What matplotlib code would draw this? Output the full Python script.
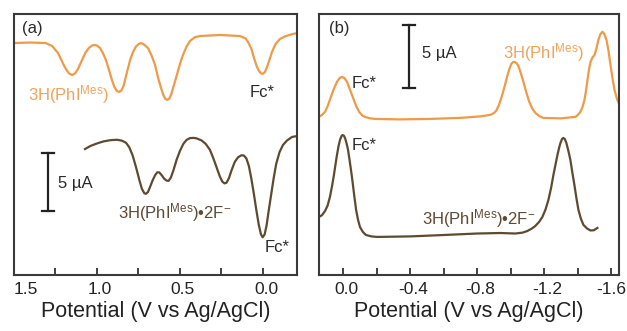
import matplotlib.pyplot as plt
from matplotlib.ticker import FixedLocator
from matplotlib.transforms import ScaledTranslation

# 폰트 설정
plt.rcParams['font.family'] = ['Liberation Sans', 'DejaVu Sans']
plt.rcParams['mathtext.fontset'] = 'custom'
plt.rcParams['mathtext.rm'] = 'Liberation Sans'
plt.rcParams['mathtext.it'] = 'Liberation Sans:italic'

# (a) 3H(PhI^Mes)
a_top_v = [1.50, 1.40, 1.31, 1.27, 1.235, 1.20, 1.185, 1.168, 1.15, 1.132, 1.115, 1.09,
           1.07, 1.05, 1.03, 1.015, 1.0, 0.982, 0.965, 0.946, 0.928, 0.91, 0.895, 0.88,
           0.867, 0.854, 0.84, 0.819, 0.80, 0.783, 0.765, 0.75, 0.735, 0.718, 0.693,
           0.672, 0.65, 0.63, 0.614, 0.60, 0.588, 0.577, 0.565, 0.552, 0.54, 0.524,
           0.50, 0.482, 0.46, 0.44, 0.41, 0.38, 0.259, 0.139, 0.105, 0.09, 0.07, 0.054,
           0.038, 0.024, 0.012, 0.0, -0.012, -0.025, -0.04, -0.054, -0.075, -0.102,
           -0.13, -0.157, -0.205]
a_top_i = [20.0, 20.04, 20.0, 19.74, 19.14, 18.1, 17.7, 17.38, 17.24, 17.38, 17.75, 18.53,
           19.15, 19.55, 19.78, 19.83, 19.78, 19.57, 19.15, 18.53, 17.7, 16.81, 16.2, 15.87,
           15.78, 15.88, 16.3, 17.5, 18.55, 19.22, 19.7, 19.9, 20.0, 19.88, 19.57,
           18.95, 18.1, 16.9, 16.12, 15.5, 15.18, 15.09, 15.2, 15.6, 16.2, 16.98,
           18.2, 18.97, 19.7, 20.17, 20.5, 20.6, 20.69, 20.6, 20.4, 20.09, 19.5, 18.7,
           18.0, 17.59, 17.38, 17.35, 17.5, 17.95, 18.6, 19.22, 19.9, 20.34,
           20.55, 20.69, 20.86]

# (a) 3H(PhI^Mes)·2F-
a_bot_v = [1.072, 1.04, 1.0, 0.96, 0.92, 0.88, 0.85, 0.825, 0.805, 0.785, 0.765, 0.745,
           0.73, 0.715, 0.705, 0.693, 0.68, 0.665, 0.65, 0.637, 0.625, 0.61, 0.595, 0.58,
           0.568, 0.555, 0.54, 0.52, 0.50, 0.48, 0.46, 0.44, 0.42, 0.40, 0.37, 0.345,
           0.32, 0.30, 0.28, 0.26, 0.245, 0.232, 0.22, 0.205, 0.19, 0.17, 0.15, 0.13,
           0.115, 0.10, 0.085, 0.07, 0.055, 0.04, 0.025, 0.012, 0.002, -0.01, -0.022,
           -0.035, -0.05, -0.065, -0.08, -0.10, -0.12, -0.145, -0.175, -0.205]
a_bot_i = [10.86, 11.12, 11.34, 11.52, 11.62, 11.66, 11.58, 11.4, 11.0, 10.3, 9.3, 8.2,
           7.45, 7.05, 7.0, 7.15, 7.6, 8.15, 8.6, 8.85, 8.85, 8.6, 8.3, 8.13,
           8.12, 8.4, 9.0, 9.95, 10.7, 11.3, 11.65, 11.8, 11.82, 11.78, 11.6, 11.3,
           10.8, 10.1, 9.3, 8.5, 8.05, 7.9, 7.95, 8.35, 9.0, 9.75, 10.15, 10.32,
           10.3, 10.05, 9.4, 8.3, 7.0, 5.6, 4.3, 3.5, 3.25, 3.5, 4.3,
           5.6, 7.0, 8.4, 9.6, 10.6, 11.2, 11.6, 11.9, 11.98]

# (b) 3H(PhI^Mes)
b_top_v = [0.143, 0.125, 0.107, 0.09, 0.072, 0.055, 0.036, 0.02, 0.006, -0.008, -0.024,
           -0.04, -0.06, -0.078, -0.096, -0.115, -0.131, -0.16, -0.191, -0.34, -0.519,
           -0.699, -0.818, -0.878, -0.90, -0.913, -0.93, -0.949, -0.965, -0.979, -0.992,
           -1.003, -1.013, -1.022, -1.033, -1.045, -1.06, -1.075, -1.092, -1.11, -1.128,
           -1.146, -1.17, -1.194, -1.296, -1.385, -1.40, -1.415, -1.428, -1.439, -1.448,
           -1.457, -1.466, -1.475, -1.487, -1.499, -1.51, -1.522, -1.534, -1.546, -1.558,
           -1.57, -1.582, -1.594, -1.606, -1.618, -1.633, -1.648]
b_top_i = [12.54, 12.7, 12.94, 13.45, 14.13, 14.75, 15.32, 15.62, 15.71, 15.62, 15.32,
           14.75, 14.05, 13.4, 12.94, 12.65, 12.54, 12.43, 12.38, 12.34, 12.38,
           12.46, 12.58, 12.7, 12.85, 13.02, 13.5, 14.29, 15.05, 15.79, 16.35,
           16.75, 16.88, 16.9, 16.82, 16.59, 16.0, 15.32, 14.5, 13.73, 13.2,
           12.86, 12.6, 12.46, 12.42, 12.54, 12.7, 12.94, 13.35, 13.89, 14.6,
           15.48, 16.3, 16.9, 17.25, 17.46, 17.95, 18.65, 19.1, 19.29, 19.1,
           18.65, 17.8, 16.67, 15.6, 14.68, 13.95, 13.49]

# (b) 3H(PhI^Mes)·2F-
b_bot_v = [0.143, 0.125, 0.107, 0.092, 0.078, 0.066, 0.054, 0.045, 0.036, 0.027, 0.018,
           0.01, 0.003, -0.005, -0.012, -0.02, -0.03, -0.042, -0.054, -0.066, -0.078,
           -0.09, -0.101, -0.118, -0.137, -0.17, -0.203, -0.4, -0.597, -0.8, -0.937,
           -1.027, -1.07, -1.099, -1.125, -1.146, -1.168, -1.188, -1.207, -1.224, -1.24,
           -1.254, -1.267, -1.278, -1.288, -1.296, -1.305, -1.313, -1.322, -1.331, -1.343,
           -1.355, -1.367, -1.379, -1.391, -1.403, -1.418, -1.433, -1.455, -1.475, -1.495,
           -1.516]
b_bot_i = [4.6, 4.75, 5.08, 5.5, 6.19, 7.0, 7.94, 8.75, 9.52, 10.2, 10.71,
           11.0, 11.1, 11.05, 10.87, 10.5, 9.92, 8.85, 7.7, 6.4, 5.16,
           4.35, 3.81, 3.42, 3.17, 3.06, 3.02, 3.06, 3.17, 3.29, 3.33,
           3.29, 3.36, 3.49, 3.68, 3.89, 4.2, 4.6, 5.2, 5.95, 6.9,
           7.94, 8.8, 9.52, 10.1, 10.48, 10.78, 10.87, 10.78, 10.48, 9.85,
           9.13, 8.1, 7.14, 6.1, 5.16, 4.45, 3.97, 3.68, 3.53, 3.55,
           3.73]

# 눈금
a_ticks = [1.5, 1.0, 0.5, 0.0]
a_labels = ['1.5', '1.0', '0.5', '0.0']
a_minor = [1.25, 0.75, 0.25]
b_ticks = [0.0, -0.4, -0.8, -1.2, -1.6]
b_labels = ['0.0', '-0.4', '-0.8', '-1.2', '-1.6']
b_minor = [-0.2, -0.6, -1.0, -1.4]
scale_ua = 5

orange = '#EE9A48'
brown = '#5E4A30'
orange_txt = '#EFA35A'
brown_txt = '#5E4A34'
dark = '#2A2A2A'

lab_top = '3H(PhI$^{\\mathrm{Mes}}$)'
lab_bot = '3H(PhI$^{\\mathrm{Mes}}$)\u20222F$^{-}$'

fig = plt.figure(figsize=(6.27, 3.31), dpi=100)
ax1 = fig.add_axes([0.0223, 0.1692, 0.4514, 0.7885])
ax2 = fig.add_axes([0.5088, 0.1692, 0.4785, 0.7885])

# (a)
ax1.plot(a_top_v, a_top_i, color=orange, lw=1.6)
ax1.plot(a_bot_v, a_bot_i, color=brown, lw=1.6)
ax1.set_xlim(1.5, -0.205)
ax1.set_ylim(0, 22.5)
ax1.set_xticks(a_ticks)
ax1.set_xticklabels(a_labels)
ax1.xaxis.set_minor_locator(FixedLocator(a_minor))

# (b)
ax2.plot(b_top_v, b_top_i, color=orange, lw=1.6)
ax2.plot(b_bot_v, b_bot_i, color=brown, lw=1.6)
ax2.set_xlim(0.143, -1.645)
ax2.set_ylim(0, 20.7)
ax2.set_xticks(b_ticks)
ax2.set_xticklabels(b_labels)
ax2.xaxis.set_minor_locator(FixedLocator(b_minor))

for ax in (ax1, ax2):
    ax.set_yticks([])
    ax.tick_params(axis='x', which='both', direction='in', length=5, width=1.2,
                   labelsize=12.5, pad=5, colors='#222222')
    for s in ax.spines.values():
        s.set_color('#3a3a3a')
        s.set_linewidth(1.5)
    ax.set_xlabel('Potential (V vs Ag/AgCl)', fontsize=15.5, labelpad=3, color='#222222')

# 눈금 라벨 약간 오른쪽으로 (양 끝 라벨 제외)
shift = ScaledTranslation(3 / 100, 0, fig.dpi_scale_trans)
for lab in ax1.get_xticklabels()[1:] + ax2.get_xticklabels()[:-1]:
    lab.set_transform(lab.get_transform() + shift)
ax1.get_xticklabels()[0].set_horizontalalignment('left')


def scale_bar(ax, xf, y0, cap):
    # 5 µA 스케일 바
    tr = ax.get_yaxis_transform()
    ax.plot([xf, xf], [y0, y0 + scale_ua], color='#222222', lw=1.6, transform=tr)
    for y in (y0, y0 + scale_ua):
        ax.plot([xf - cap, xf + cap], [y, y], color='#222222', lw=1.6, transform=tr)


scale_bar(ax1, 0.120, 5.52, 0.021)
scale_bar(ax2, 0.300, 14.84, 0.020)

fs = 12
t1 = ax1.transAxes
ax1.text(0.064, 0.943, '(a)', transform=t1, fontsize=fs, ha='center', va='center', color=dark)
ax1.text(0.049, 0.670, lab_top, transform=t1, fontsize=fs, ha='left', va='baseline', color=orange_txt)
ax1.text(0.876, 0.682, 'Fc*', transform=t1, fontsize=fs, ha='center', va='baseline', color=dark)
ax1.text(0.155, 0.352, '5 \u00b5A', transform=t1, fontsize=fs, ha='left', va='center', color=dark)
ax1.text(0.367, 0.215, lab_bot, transform=t1, fontsize=fs, ha='left', va='baseline', color=brown_txt)
ax1.text(0.887, 0.088, 'Fc*', transform=t1, fontsize=fs, ha='left', va='baseline', color=dark)

t2 = ax2.transAxes
ax2.text(0.067, 0.946, '(b)', transform=t2, fontsize=fs, ha='center', va='center', color=dark)
ax2.text(0.343, 0.847, '5 \u00b5A', transform=t2, fontsize=fs, ha='left', va='center', color=dark)
ax2.text(0.613, 0.831, lab_top, transform=t2, fontsize=fs, ha='left', va='baseline', color=orange_txt)
ax2.text(0.110, 0.716, 'Fc*', transform=t2, fontsize=fs, ha='left', va='baseline', color=dark)
ax2.text(0.110, 0.479, 'Fc*', transform=t2, fontsize=fs, ha='left', va='baseline', color=dark)
ax2.text(0.343, 0.192, lab_bot, transform=t2, fontsize=fs, ha='left', va='baseline', color=brown_txt)

fig.savefig('out.png', dpi=100)
